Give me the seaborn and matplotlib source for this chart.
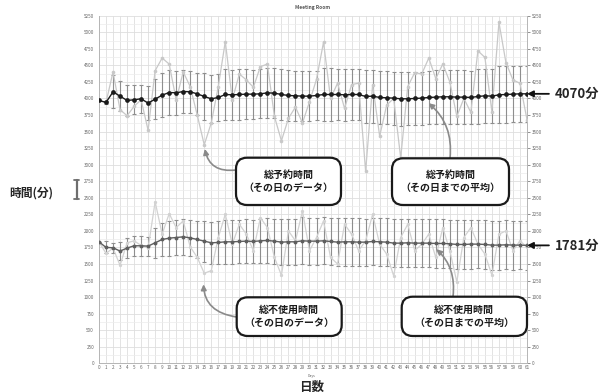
import numpy as np
import pandas as pd
import matplotlib
matplotlib.use("Agg")
import matplotlib.pyplot as plt
import seaborn as sns
from matplotlib.patches import FancyBboxPatch
from matplotlib.lines import Line2D

# ---- data (minutes per day) ----
days = list(range(62))

reserved_daily = [3970, 3940, 4400, 3830, 3740, 3880, 3980, 3520, 4420, 4610,
                  4520, 3980, 4400, 4180, 3750, 3300, 3630, 4180, 4860, 3980,
                  4370, 4280, 4170, 4480, 4520, 3730, 3360, 3700, 3870, 3630,
                  3950, 4290, 4850, 4000, 4230, 3850, 4210, 4230, 2900, 4210,
                  3430, 3900, 4000, 3100, 4180, 4390, 4370, 4610, 4300, 4520,
                  4250, 3730, 4000, 3790, 4720, 4620, 3800, 5150, 4540, 4280,
                  4230, 3680]
reserved_avg = [3970, 3940, 4100, 4035, 3970, 3980, 3995, 3930, 3990, 4050,
                4090, 4085, 4105, 4100, 4070, 4030, 3995, 4015, 4060, 4055,
                4060, 4065, 4065, 4070, 4085, 4080, 4060, 4045, 4040, 4035,
                4035, 4045, 4060, 4060, 4060, 4055, 4060, 4060, 4030, 4035,
                4015, 4010, 4005, 3995, 3995, 4000, 4005, 4015, 4020, 4025,
                4025, 4020, 4020, 4015, 4030, 4040, 4035, 4055, 4060, 4065,
                4070, 4070]
reserved_std = [0, 20, 250, 230, 240, 220, 210, 260, 300, 330,
                340, 330, 330, 320, 320, 360, 360, 350, 390, 380,
                380, 375, 370, 370, 375, 380, 390, 385, 380, 380,
                375, 375, 400, 395, 390, 390, 385, 380, 400, 400,
                405, 400, 400, 405, 400, 400, 400, 405, 405, 405,
                405, 405, 405, 405, 410, 410, 410, 430, 430, 425,
                425, 425]

unused_daily = [1835, 1660, 1740, 1480, 1820, 1850, 1780, 1740, 2440, 1950,
                2260, 2050, 2150, 1760, 1600, 1360, 1400, 1900, 2250, 1800,
                2100, 1950, 1700, 2200, 2050, 1600, 1330, 2000, 1850, 2300,
                1700, 1900, 2150, 1600, 1500, 2100, 1950, 1700, 1850, 2250,
                1800, 1650, 1320, 1900, 2100, 1700, 1800, 1950, 1600, 2050,
                1700, 1230, 1900, 2050, 1800, 1650, 1330, 1950, 2000, 1700,
                1850, 1750]
unused_avg = [1835, 1750, 1745, 1695, 1740, 1775, 1775, 1770, 1820, 1870,
              1890, 1900, 1910, 1895, 1870, 1845, 1820, 1825, 1835, 1835,
              1840, 1845, 1840, 1850, 1855, 1845, 1830, 1835, 1835, 1850,
              1845, 1845, 1850, 1840, 1830, 1835, 1835, 1830, 1830, 1840,
              1835, 1830, 1815, 1815, 1820, 1815, 1815, 1815, 1810, 1810,
              1805, 1795, 1795, 1800, 1800, 1795, 1785, 1785, 1790, 1785,
              1785, 1781]
unused_std = [0, 90, 75, 130, 145, 155, 150, 145, 230, 250,
              265, 265, 270, 275, 285, 310, 320, 320, 330, 330,
              330, 330, 330, 335, 335, 340, 350, 350, 345, 355,
              355, 355, 355, 355, 360, 360, 360, 360, 355, 360,
              360, 360, 365, 365, 365, 365, 365, 365, 365, 365,
              365, 370, 370, 370, 365, 365, 370, 370, 370, 370,
              365, 365]

y_ticks = list(range(0, 5251, 250))

df = pd.DataFrame({
    "day": days,
    "reserved_daily": reserved_daily, "reserved_avg": reserved_avg, "reserved_std": reserved_std,
    "unused_daily": unused_daily, "unused_avg": unused_avg, "unused_std": unused_std,
})

# ---- style ----
sns.set_style("white")
plt.rcParams["font.family"] = ["Noto Sans CJK JP", "DejaVu Sans"]

W, H = 614, 392
fig = plt.figure(figsize=(W / 100, H / 100), dpi=100)


def fx(px):
    return px / W


def fy(py):
    return 1 - py / H


ax = fig.add_axes([fx(99), fy(363.3), fx(527) - fx(99), fy(15.7) - fy(363.3)])
ax.set_xlim(0, 61)
ax.set_ylim(0, 5250)

# grid
ax.set_xticks(days)
ax.set_yticks(y_ticks)
ax.set_yticks(list(range(125, 5250, 250)), minor=True)
ax.grid(True, which="major", color="#dedede", lw=0.6)
ax.grid(True, which="minor", axis="y", color="#ececec", lw=0.5)
ax.set_axisbelow(True)
for s in ax.spines.values():
    s.set_color("#b5b5b5")
    s.set_linewidth(0.7)
ax.spines["top"].set_visible(False)

ax.tick_params(axis="both", which="major", labelsize=3.3, colors="#666666",
               length=2, width=0.5, pad=1.5)
ax.tick_params(axis="y", which="minor", length=0)
ax.tick_params(axis="y", right=True, labelright=True)
ax.tick_params(axis="x", direction="in", length=3)
ax.set_xticklabels([str(d) for d in days])

err_c = "#8e8e8e"
light_c = "#c8c8c8"

# error bars of running averages
ax.errorbar(df["day"], df["reserved_avg"], yerr=df["reserved_std"], fmt="none",
            ecolor=err_c, elinewidth=0.8, capsize=1.6, capthick=0.8, zorder=2)
ax.errorbar(df["day"], df["unused_avg"], yerr=df["unused_std"], fmt="none",
            ecolor=err_c, elinewidth=0.8, capsize=1.6, capthick=0.8, zorder=2)

# daily values
sns.lineplot(data=df, x="day", y="reserved_daily", ax=ax, color=light_c, lw=0.9,
             marker="o", markersize=2.6, markeredgewidth=0, zorder=3)
sns.lineplot(data=df, x="day", y="unused_daily", ax=ax, color="#d2d2d2", lw=0.9,
             marker="o", markersize=2.4, markeredgewidth=0, zorder=3)

# running averages
sns.lineplot(data=df, x="day", y="reserved_avg", ax=ax, color="#1a1a1a", lw=1.0,
             marker="o", markersize=3.4, markeredgewidth=0, zorder=4)
sns.lineplot(data=df, x="day", y="unused_avg", ax=ax, color="#5e5e5e", lw=1.0,
             marker="o", markersize=2.8, markeredgewidth=0, zorder=4)

ax.set_xlabel("")
ax.set_ylabel("")
ax.set_title("Meeting Room", fontsize=3.5, fontweight="bold", color="#555555", pad=5)

# ---- axis captions ----
fig.text(fx(31.5), fy(192.7), "時間(分)", fontsize=8.5, fontweight="bold",
         ha="center", va="center")
fig.text(fx(311.5), fy(387), "日数", fontsize=9, fontweight="bold",
         ha="center", va="center")
fig.text(fx(312), fy(376.5), "Days", fontsize=2.5, color="#666666",
         ha="center", va="center")

# error-bar glyph next to the y caption
gx = fx(76.7)
fig.add_artist(Line2D([gx, gx], [fy(179.5), fy(198.5)], color="#6e6e6e", lw=1.6,
                      transform=fig.transFigure))
for gy in (179.5, 198.5):
    fig.add_artist(Line2D([fx(74.2), fx(79.2)], [fy(gy), fy(gy)], color="#6e6e6e",
                          lw=1.3, transform=fig.transFigure))

# ---- callout boxes ----
def callout(x0, y0, x1, y1, text):
    box = FancyBboxPatch((fx(x0), fy(y1)), fx(x1) - fx(x0), fy(y0) - fy(y1),
                         boxstyle="round,pad=0,rounding_size=0.018",
                         transform=fig.transFigure, facecolor="white",
                         edgecolor="#1a1a1a", lw=1.6, zorder=10,
                         mutation_aspect=W / H)
    fig.add_artist(box)
    fig.text(fx((x0 + x1) / 2), fy((y0 + y1) / 2), text, fontsize=7.2,
             fontweight="bold", ha="center", va="center", linespacing=1.45,
             color="#1a1a1a", zorder=11)


callout(236, 157.7, 341, 205, "総予約時間\n（その日のデータ）")
callout(392, 158.3, 509, 205, "総予約時間\n（その日までの平均）")
callout(236.7, 297.3, 341.7, 336, "総不使用時間\n（その日のデータ）")
callout(401.7, 296.7, 527, 336, "総不使用時間\n（その日までの平均）")

arrow_gray = dict(arrowstyle="-|>", color="#8a8a8a", lw=1.2, mutation_scale=8)


def pointer(start_px, day, value, rad, shrink):
    ax.annotate("", xy=(day, value), xycoords="data",
                xytext=(fx(start_px[0]), fy(start_px[1])), textcoords="figure fraction",
                arrowprops=dict(**arrow_gray, connectionstyle=f"arc3,rad={rad}",
                                shrinkA=0, shrinkB=shrink), zorder=9,
                annotation_clip=False)


pointer((236, 170), 15, reserved_daily[15], -0.5, 3)
pointer((450, 158.3), 46, reserved_avg[46], 0.3, 6)
pointer((236.7, 317), 15, unused_daily[15], -0.5, 8)
pointer((453, 296.7), 47, unused_avg[47], 0.3, 7)

# ---- final averages on the right ----
for val in (reserved_avg[-1], unused_avg[-1]):
    ax.annotate(f"{val}分", xy=(61, val), xycoords="data",
                xytext=(61 + 28 / 7.02, val), textcoords="data",
                fontsize=9.5, fontweight="bold", ha="left", va="center",
                annotation_clip=False,
                arrowprops=dict(arrowstyle="-|>", color="#111111", lw=1.3,
                                mutation_scale=9, shrinkA=2, shrinkB=0))

fig.savefig("out.png", dpi=100, facecolor="white")
